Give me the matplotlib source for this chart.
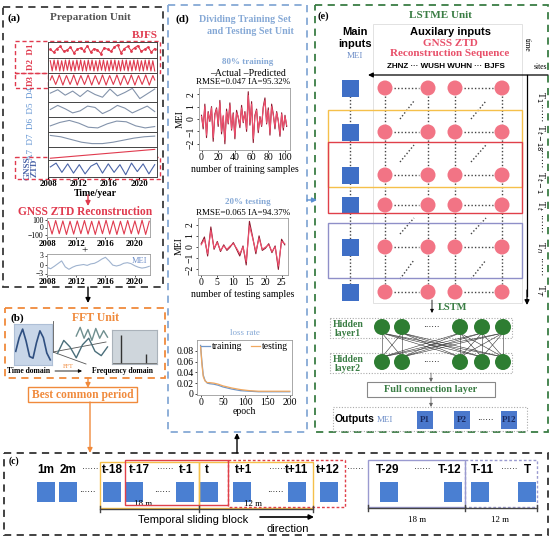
import numpy as np
import matplotlib.pyplot as plt
from matplotlib.patches import Rectangle, Circle, Polygon

W, H = 551, 543
SERIF = 'Liberation Serif'
SANS = 'Liberation Sans'
plt.rcParams['font.family'] = SERIF

# ---------------- data ----------------
year_ticks = [2008, 2012, 2016, 2020]

# (a) wavelet components of the BJFS series
d1 = [0.1, -0.3, 0.2, 0.5, -0.2, 0.0, 0.4, -0.4, 0.1, 0.3, -0.1, 0.6, -0.3, 0.2, 0.0, -0.5,
      0.3, 0.1, -0.2, 0.4, 0.7, -0.4, 0.2, 0.5, -0.1, 0.3, 0.6, -0.2, 0.1, 0.4, -0.3, 0.2]
d2 = [0.7, -0.8, 0.8, -0.7, 0.8, -0.8, 0.7, -0.8, 0.8, -0.7, 0.8, -0.8, 0.7, -0.8, 0.8, -0.7,
      0.8, -0.8, 0.7, -0.8, 0.8, -0.7, 0.8, -0.8, 0.7, -0.8, 0.8, -0.7, 0.8, -0.8, 0.7, -0.8,
      0.8, -0.7, 0.8, -0.8, 0.7, -0.8, 0.8, -0.7, 0.8, -0.8, 0.7, -0.8, 0.8, -0.7, 0.8, -0.8,
      0.7, -0.8, 0.8, -0.7, 0.8, -0.8, 0.7, -0.8]
d3 = [0.0, 0.7, 0.0, -0.7, 0.0, 0.8, 0.0, -0.8, 0.0, 0.7, 0.0, -0.7, 0.0, 0.8, 0.0, -0.8,
      0.0, 0.7, 0.0, -0.7, 0.0, 0.8, 0.0, -0.8, 0.0, 0.7, 0.0, -0.7, 0.0, 0.8, 0.0, -0.8,
      0.0, 0.7, 0.0, -0.7, 0.0, 0.8, 0.0, -0.8, 0.0, 0.7, 0.0, -0.7, 0.0, 0.8, 0.0, -0.8,
      0.0, 0.7, 0.0, -0.7, 0.0, 0.8, 0.0, -0.8, 0.0, 0.7, 0.0]
d4 = [0.2, 0.7, -0.1, 0.5, -0.3, 0.6, 0.0, -0.4, 0.8, -0.2, 0.3, 0.9, -0.6, 0.1, 0.8]
d5 = [0.0, 0.6, 0.1, -0.5, -0.2, 0.5, 0.3, -0.6, -0.1, 0.6, 0.2, -0.5, 0.0, 0.5, -0.3]
d6 = [-0.2, 0.3, 0.6, 0.2, -0.4, -0.5, 0.1, 0.5, 0.4, -0.2, -0.5, -0.3]
d7 = [0.6, 0.4, 0.0, -0.4, -0.6, -0.6, -0.4, -0.1, 0.2, 0.4, 0.5]
a7 = [-0.8, -0.5, -0.2, 0.1, 0.4, 0.7]
ztd_raw = [0.2, 0.7, -0.5, 0.6, -0.6, 0.5, -0.7, 0.3, 0.7, -0.6, 0.6, -0.5, 0.5, -0.8, 0.7,
           -0.4, 0.6, -0.7, 0.5]
row_series = [d1, d2, d3, d4, d5, d6, d7, a7, ztd_raw]
row_colors = ['#e03a4e', '#e03a4e', '#e03a4e', '#8393ab', '#8393ab', '#8393ab', '#8393ab',
              '#e03a4e', '#4a64a8']

# reconstructed ZTD and MEI (half-year steps 2008-2022)
ztd_rec = [80, -90, 95, -85, 90, -95, 85, -90, 90, -85, 95, -90, 85, -95, 90, -85, 100, -90,
           90, -95, 85, -90, 95, -85, 90, -90, 100, -95, 85]
mei = [-1.0, -1.4, -0.6, 0.3, 1.2, -0.8, -1.6, -0.9, -0.4, -0.2, 0.0, -0.3, 0.2, 0.4, 1.0,
       1.8, 2.4, 1.2, -0.2, -0.5, -0.2, 0.4, 0.6, 0.3, -0.4, -0.9, -1.2, -1.0, -0.6]

# (b) sketch of time / frequency domain
time_wave = [0.3, 0.7, 0.95, 0.6, 0.15, 0.1, 0.55, 0.9, 0.7, 0.25, 0.05]
wave_slow = [0.2, 0.8, 0.5, 0.0, 0.6, 0.9, 0.3, 0.1, 0.5]
wave_fast = [0.5, 0.9, 0.4, 0.8, 0.3, 0.85, 0.4, 0.75, 0.45]
spec_freq = [8, 30]
spec_amp = [0.85, 0.3]

# (d) training / testing results
train_actual = [0.3, -0.8, 1.2, -1.5, 0.6, -0.2, 1.0, -1.8, 0.4, 0.9, -0.6, 1.5, -1.2, 0.2,
                -2.0, 0.8, -0.4, 1.3, -0.9, 0.5, -1.6, 0.7, 0.1, -0.7, 1.1, -0.3, 0.6, -1.0,
                2.2, -0.5, 1.4, -1.9, 0.3, 0.8, -1.1, 0.2, -0.6, 1.0, 1.7, -0.4, 0.9, -1.3,
                1.2, 0.4, -0.8, 0.6, -0.2, -1.4, 0.5, -0.9, 0.3, -0.6]
train_pred = [0.2, -0.6, 1.0, -1.3, 0.5, -0.1, 0.9, -1.5, 0.3, 0.8, -0.4, 1.3, -1.0, 0.3,
              -1.7, 0.6, -0.3, 1.1, -0.8, 0.4, -1.4, 0.5, 0.2, -0.5, 0.9, -0.2, 0.5, -0.8,
              1.9, -0.3, 1.2, -1.6, 0.2, 0.7, -0.9, 0.1, -0.5, 0.9, 1.5, -0.3, 0.7, -1.1,
              1.0, 0.3, -0.6, 0.5, -0.1, -1.2, 0.4, -0.7, 0.2, -0.5]
test_actual = [0.3, 0.9, -0.8, 1.8, -0.2, 0.5, -0.4, 0.2, -0.3, 0.0, 0.4, -0.2, -0.8, 0.1,
               -1.6, 2.3, 0.9, -0.6, 1.0, -0.3, -0.1, 0.3, -0.5, 0.1, -2.0, 0.7, 0.2]
test_pred = [0.2, 0.7, -0.6, 1.5, -0.1, 0.4, -0.3, 0.1, -0.2, 0.1, 0.3, -0.1, -0.6, 0.0,
             -1.3, 1.9, 0.8, -0.4, 0.8, -0.2, 0.0, 0.2, -0.4, 0.0, -1.7, 0.5, 0.3]
epochs = [0, 3, 6, 10, 15, 20, 30, 40, 50, 70, 90, 110, 130, 150, 200]
loss_train = [0.090, 0.060, 0.035, 0.025, 0.020, 0.019, 0.018, 0.016, 0.013, 0.009, 0.006,
              0.005, 0.004, 0.004, 0.004]
loss_test = [0.088, 0.055, 0.032, 0.024, 0.021, 0.021, 0.020, 0.018, 0.015, 0.011, 0.008,
             0.006, 0.005, 0.005, 0.005]

# (e) LSTME labels
sites = 'ZHNZ ··· WUSH WUHN ··· BJFS'
outputs = ['P1', 'P2', 'P12']

# (c) sliding block labels
c_labels = ['1m', '2m', '······', 't-18', 't-17', '······', 't-1', 't', 't+1', '······',
            't+11', 't+12', '······', 'T-29', '······', 'T-12', 'T-11', '······', 'T']

# ---------------- figure ----------------
fig = plt.figure(figsize=(W / 100, H / 100), dpi=100)
ax = fig.add_axes([0, 0, 1, 1])
ax.set_xlim(0, W)
ax.set_ylim(H, 0)
ax.axis('off')


def inset(x0, y0, x1, y1):
    return fig.add_axes([x0 / W, 1 - y1 / H, (x1 - x0) / W, (y1 - y0) / H])


def box(x0, y0, x1, y1, ec, ls='-', lw=1.0, fc='none', z=1):
    ax.add_patch(Rectangle((x0, y0), x1 - x0, y1 - y0, fill=fc != 'none', fc=fc, ec=ec,
                           ls=ls, lw=lw, zorder=z))


def arrow(x0, y0, x1, y1, color='k', lw=1.0, ms=7):
    ax.annotate('', xy=(x1, y1), xytext=(x0, y0),
                arrowprops=dict(arrowstyle='-|>', color=color, lw=lw, mutation_scale=ms,
                                shrinkA=0, shrinkB=0))


def txt(x, y, s, size=8, color='k', weight='bold', family=SERIF, ha='center', va='center', **kw):
    ax.text(x, y, s, fontsize=size, color=color, fontweight=weight, family=family,
            ha=ha, va=va, **kw)


def small_style(a, size=6.5):
    for s in a.spines.values():
        s.set_color('#9a9a9a')
        s.set_linewidth(0.6)
    a.tick_params(labelsize=size, length=1.5, width=0.5, pad=1)


def year_labels(a):
    a.tick_params(axis='x', pad=0.5)
    for lab in a.get_xticklabels():
        lab.set_fontweight('bold')
        lab.set_fontsize(6.3)


DASH = (0, (4, 3))

# ===== (a) Preparation Unit =====
box(3, 7, 163, 287, '#3a3a3a', ls=DASH, lw=1.3)
txt(14, 18, '(a)', 8)
txt(90, 18, 'Preparation Unit', 8, color='#555555')
txt(158, 36, 'BJFS', 8, color='#e03a4e', ha='right')

row_edges = [42, 58, 73, 87, 102, 117, 132, 147, 160, 177]
years_span = (2008, 2022.3)
for i, series in enumerate(row_series):
    a = inset(48, row_edges[i], 157, row_edges[i + 1])
    t = np.linspace(2008.3, 2022.0, len(series))
    a.plot(t, series, color=row_colors[i], lw=0.8,
           marker='.' if i == 0 else None, ms=2)
    a.set_xlim(*years_span)
    a.set_ylim(-1.1, 1.1)
    a.set_yticks([])
    for s in a.spines.values():
        s.set_color('#444444')
        s.set_linewidth(0.7)
    if i == len(row_series) - 1:
        a.set_xticks(year_ticks)
        a.tick_params(length=1.5)
        year_labels(a)
    else:
        a.set_xticks([])

box(15, 41, 160, 73, '#e03a4e', ls=(0, (3, 2)), lw=1.0, z=5)
box(15, 73, 48, 88, '#e03a4e', ls=(0, (3, 2)), lw=1.0, z=5)
box(15, 157, 160, 179, '#e03a4e', ls=(0, (3, 2)), lw=1.0, z=5)
txt(31, 57, 'D2  D1', 6.5, color='#e03a4e', rotation=90)
txt(31, 80, 'D3', 6.5, color='#e03a4e', rotation=90)
txt(31, 124, 'A7  D7  D6  D5  D4', 6.5, color='#5b8fd0', weight='normal', rotation=90)
txt(31, 168, 'GNSS\nZTD', 6.5, color='#4a64a8', rotation=90, linespacing=0.9)
txt(95, 193, 'Time/year', 7)
arrow(88, 195, 88, 206, color='#e03a4e')
txt(85, 212, 'GNSS ZTD Reconstruction', 8.3, color='#e03a4e')

a = inset(47, 218, 150, 237)
a.plot(np.linspace(2008.2, 2022, len(ztd_rec)), ztd_rec, color='#e03a4e', lw=0.8)
a.set_xlim(2008, 2022.1)
a.set_ylim(-130, 130)
a.set_yticks([100, 0, -100])
a.set_xticks(year_ticks)
small_style(a, 5.5)
year_labels(a)

txt(85, 251, '+', 8, weight='normal')

a = inset(47, 254, 150, 275)
a.plot(np.linspace(2008, 2022, len(mei)), mei, color='#9fb3cf', lw=0.8)
a.set_xlim(2008, 2022.1)
a.set_ylim(-3.5, 3.5)
a.set_yticks([3, 0, -3])
a.set_xticks(year_ticks)
small_style(a, 5.5)
year_labels(a)
a.text(0.97, 0.88, 'MEI', transform=a.transAxes, ha='right', va='top', fontsize=6,
       color='#6f8fc8')

arrow(88, 287, 88, 303)

# ===== (b) FFT Unit =====
box(5, 308, 165, 378, '#f08a3c', ls=DASH, lw=1.3)
txt(17, 318, '(b)', 8)
txt(95, 318, 'FFT Unit', 8.5, color='#f08a3c')

a = inset(14, 324, 52, 365)
a.set_facecolor('#c8d6e8')
a.plot(np.arange(len(time_wave)), time_wave, color='#2f4f80', lw=1.2)
a.set_ylim(-0.1, 1.1)
a.set_xticks([])
a.set_yticks([])
for s in a.spines.values():
    s.set_color('#aebfd6')

ax.plot([53, 53], [321, 352], color='#555555', lw=0.6)
ax.plot([53, 86], [352, 364], color='#555555', lw=0.6)
ax.plot([53, 106], [352, 342], color='#555555', lw=0.6)
a = inset(55, 323, 110, 360)
a.plot(np.arange(len(wave_slow)), wave_slow, color='#4a6e7a', lw=1.0)
a.plot(np.linspace(3, 8, len(wave_fast)), [v + 0.5 for v in wave_fast], color='#6f8f8f', lw=1.0)
a.set_ylim(-0.1, 1.6)
a.axis('off')

a = inset(112, 330, 157, 364)
a.set_facecolor('#cfd6dc')
a.vlines(spec_freq, 0, spec_amp, color='#333333', lw=1.0)
a.axhline(0.02, color='#666666', lw=0.6)
a.set_xlim(0, 40)
a.set_ylim(0, 1)
a.set_xticks([])
a.set_yticks([])
for s in a.spines.values():
    s.set_color('#aab2ba')

txt(29, 371, 'Time domain', 5.5)
txt(68, 366, 'FFT', 4.5, color='#f08a3c', weight='normal')
arrow(55, 371, 82, 371, lw=0.6, ms=5)
txt(123, 371, 'Frequency domain', 5.5)

arrow(88, 378, 88, 388, color='#f08a3c')
box(28, 387, 137, 402, '#f08a3c', lw=1.0)
txt(83, 395, 'Best common period', 8.3, color='#f08a3c')
arrow(90, 402, 90, 453, color='#f08a3c')

# ===== (d) Dividing Training Set =====
box(168, 5, 307, 432, '#86a9d6', ls=DASH, lw=1.3)
txt(182, 19, '(d)', 8)
txt(245, 19, 'Dividing Training Set', 7.2, color='#86a9d6')
txt(250, 32, 'and Testing Set Unit', 7.2, color='#86a9d6')

txt(248, 62, '80% training', 6.5, color='#86a9d6')
txt(248, 74, '–Actual –Predicted', 7, weight='normal')
txt(243, 82, 'RMSE=0.047 IA=95.32%', 6.5, weight='normal')
a = inset(199, 88, 290, 150)
tx = np.arange(0, 2 * len(train_actual), 2)
a.plot(tx, train_actual, color='#8b1a2e', lw=0.8)
a.plot(tx, train_pred, color='#f0506e', lw=0.8)
a.set_xlim(-3, 106)
a.set_ylim(-2.5, 2.5)
a.set_xticks([0, 20, 40, 60, 80, 100])
a.set_yticks([2, 1, 0, -1, -2])
small_style(a, 7)
for lab in a.get_yticklabels():
    lab.set_rotation(90)
    lab.set_va('center')
a.set_ylabel('MEI', fontsize=7, labelpad=1)
a.set_xlabel('number of training samples', fontsize=7, labelpad=1)

txt(248, 202, '20% testing', 6.5, color='#86a9d6')
txt(243, 213, 'RMSE=0.065 IA=94.37%', 6.5, weight='normal')
a = inset(198, 218, 288, 275)
sx = np.arange(len(test_actual))
a.plot(sx, test_actual, color='#8b1a2e', lw=0.8)
a.plot(sx, test_pred, color='#f0506e', lw=0.8)
a.set_xlim(-1, 27)
a.set_ylim(-2.5, 2.6)
a.set_xticks([0, 5, 10, 15, 20, 25])
a.set_yticks([2, 1, 0, -1, -2])
small_style(a, 7)
for lab in a.get_yticklabels():
    lab.set_rotation(90)
    lab.set_va('center')
a.set_ylabel('MEI', fontsize=7, labelpad=1)
a.set_xlabel('number of testing samples', fontsize=7, labelpad=1)

txt(245, 333, 'loss rate', 6.5, color='#86a9d6', weight='normal')
a = inset(197, 340, 292, 395)
a.plot(epochs, loss_train, color='#6f96c8', lw=0.9, label='training')
a.plot(epochs, loss_test, color='#f0a860', lw=0.9, label='testing')
a.set_xlim(-8, 205)
a.set_ylim(-0.002, 0.1)
a.set_xticks([0, 50, 100, 150, 200])
a.set_yticks([0, 0.02, 0.04, 0.06, 0.08])
a.set_yticklabels(['0', '0.02', '0.04', '0.06', '0.08'])
small_style(a, 7)
a.set_xlabel('epoch', fontsize=7, labelpad=0)
a.legend(loc='upper center', ncol=2, fontsize=7, frameon=False, handlelength=1.0,
         handletextpad=0.2, columnspacing=0.8, borderpad=0.1, borderaxespad=0.1)

arrow(237, 453, 237, 433)
arrow(307, 200, 317, 200, color='#5b8fd0')

# ===== (e) LSTME Unit =====
GREEN = '#3a7d44'
box(315, 5, 548, 432, GREEN, ls=DASH, lw=1.3)
txt(323, 16, '(e)', 7.5)
txt(440, 15, 'LSTME Unit', 8, color=GREEN)
txt(355, 32, 'Main', 8, family=SANS)
txt(355, 44, 'inputs', 8, family=SANS)
txt(355, 56, 'MEI', 6.5, color='#6f8fc8', weight='normal')
txt(450, 32, 'Auxilary inputs', 8, family=SANS)
txt(450, 43, 'GNSS ZTD', 8, color='#e8506a')
txt(450, 53, 'Reconstruction Sequence', 8, color='#e8506a')
box(373, 24, 522, 303, '#dddddd', lw=0.6, z=0)
txt(446, 67, sites, 5.8, family=SANS)
arrow(548, 75, 368, 75, lw=0.9)
ax.plot([527, 527], [75, 296], color='k', lw=0.9)
arrow(527, 290, 527, 305, lw=0.9)
txt(527, 45, 'time', 5.5, rotation=-90, weight='normal')
txt(540, 67, 'sites', 5.5, weight='normal')

rows_y = [88, 132, 175, 205, 247, 292]
sq_x = 350
circ_x = [385, 428, 455, 502]
SQ = '#3f6fc6'
PINK = '#f27485'
for i, y in enumerate(rows_y):
    ax.add_patch(Rectangle((sq_x - 8.5, y - 8.5), 17, 17, fc=SQ, ec='none', zorder=3))
    for cx in circ_x:
        ax.add_patch(Circle((cx, y), 7.5, fc=PINK, ec='none', zorder=3))
    ax.plot([394, 419], [y, y], color='#444444', lw=1.0, ls=(0, (1, 1.5)), zorder=2)
    ax.plot([464, 493], [y, y], color='#444444', lw=1.0, ls=(0, (1, 1.5)), zorder=2)
    if i < len(rows_y) - 1:
        y2 = rows_y[i + 1]
        for cx in [sq_x] + circ_x:
            ax.plot([cx, cx], [y + 8, y2 - 8], color='#444444', lw=1.0, ls=(0, (1, 1.5)), zorder=2)
        if y2 - y > 35:
            ax.plot([400, 414], [y2 - 13, y + 13], color='#444444', lw=1.0, ls=(0, (1, 1.5)))
            ax.plot([471, 486], [y2 - 13, y + 13], color='#444444', lw=1.0, ls=(0, (1, 1.5)))

box(328, 110, 522, 187, '#f5c04a', lw=1.0, z=4)
box(328, 142, 522, 213, '#e0404a', lw=1.0, z=4)
box(328, 223, 522, 278, '#8f8fc8', lw=1.0, z=4)

t_labels = [(97, r'T$_1$'), (114, '······'), (138, r'T$_{t-18}$'), (160, '······'),
            (182, r'T$_{t-1}$'), (205, r'T$_t$'), (225, '······'), (247, r'T$_n$'),
            (268, '······'), (290, r'T$_T$')]
for y, s in t_labels:
    txt(540, y, s, 7, rotation=-90, weight='normal')

arrow(432, 300, 432, 313, lw=0.6, ms=5)
txt(453, 307, 'LSTM', 7.5, color=GREEN)

box(330, 318, 512, 338, '#aaaaaa', ls=(0, (1, 1.5)), lw=0.8, z=1)
box(330, 353, 512, 373, '#aaaaaa', ls=(0, (1, 1.5)), lw=0.8, z=1)
txt(348, 329, 'Hidden\nlayer1', 7, color=GREEN, linespacing=0.9)
txt(348, 364, 'Hidden\nlayer2', 7, color=GREEN, linespacing=0.9)
hid_x = [382, 402, 460, 482, 503]
DGREEN = '#2e7d32'
for x1 in hid_x:
    for x2 in hid_x:
        ax.plot([x1, x2], [333, 357], color='#333333', lw=0.4, zorder=2)
for hx in hid_x:
    ax.add_patch(Circle((hx, 327), 8, fc=DGREEN, ec='none', zorder=3))
    ax.add_patch(Circle((hx, 362), 8, fc=DGREEN, ec='none', zorder=3))
txt(431, 327, '······', 6, weight='normal')
txt(431, 362, '······', 6, weight='normal')

arrow(431, 373, 431, 382, color='#666666', lw=0.6, ms=5)
box(367, 382, 495, 397, '#888888', lw=0.8, fc='white')
txt(431, 390, 'Full connection layer', 7.5, color=GREEN)
arrow(431, 397, 431, 407, color='#666666', lw=0.6, ms=5)
box(333, 407, 527, 431, '#aaaaaa', ls=(0, (1, 1.5)), lw=0.8)
txt(355, 419, 'Outputs', 7.5, family=SANS)
txt(385, 420, 'MEI', 6.5, color='#6f8fc8', weight='normal')
for ox, lab in zip([425, 462, 509], outputs):
    ax.add_patch(Rectangle((ox - 8, 411), 16, 18, fc='#4a78cc', ec='none', zorder=3))
    txt(ox, 420, lab, 6.5, color='#1a2a60', zorder=4)
txt(485, 420, '······', 6, weight='normal')

# ===== (c) temporal sliding block =====
box(4, 453, 548, 535, '#333333', ls=DASH, lw=1.3)
txt(14, 461, '(c)', 7)
c_label_x = [46, 68, 90, 112, 139, 165, 186, 207, 244, 277, 297, 328, 355, 388, 422,
             450, 482, 509, 527]
for x, s in zip(c_label_x, c_labels):
    txt(x, 470, s, 8.5 if s[0] != '·' else 6, family=SANS,
        weight='bold' if s[0] != '·' else 'normal')

sq_c = [46, 68, 112, 134, 185, 209, 242, 297, 329, 389, 453, 480, 527]
for x in sq_c:
    ax.add_patch(Rectangle((x - 9, 482), 18, 20, fc='#4a7fd2', ec='none', zorder=3))
for x in [87, 162, 275]:
    txt(x, 492, '······', 6, weight='normal')

box(100, 462, 199, 508, '#f5c04a', lw=1.0, z=4)
box(199, 462, 313, 508, '#f5c04a', lw=1.0, z=4)
box(125, 460, 228, 505, '#e0404a', lw=1.0, z=4)
box(228, 460, 345, 507, '#e0404a', ls=(0, (2, 1.5)), lw=1.0, z=4)
box(368, 460, 465, 507, '#9a9ad0', lw=1.0, z=4)
box(465, 460, 537, 507, '#9a9ad0', ls=(0, (2, 1.5)), lw=1.0, z=4)

for xs, yb in [([100, 199, 313], 509), ([368, 465, 537], 508)]:
    ax.plot([xs[0], xs[-1]], [yb, yb], color='#444444', lw=1.0, zorder=5)
    for x in xs:
        ax.plot([x, x], [yb - 3, yb + 3], color='#444444', lw=1.0, zorder=5)

txt(143, 504, '18 m', 6.5, weight='normal')
txt(253, 504, '12 m', 6.5, weight='normal')
txt(417, 520, '18 m', 6.5, weight='normal')
txt(500, 520, '12 m', 6.5, weight='normal')
txt(193, 520, 'Temporal sliding block', 8, family=SANS, weight='normal')
arrow(260, 517, 314, 517, lw=1.2)
txt(288, 529, 'direction', 8, family=SANS, weight='normal')

fig.savefig('out.png', dpi=100)
